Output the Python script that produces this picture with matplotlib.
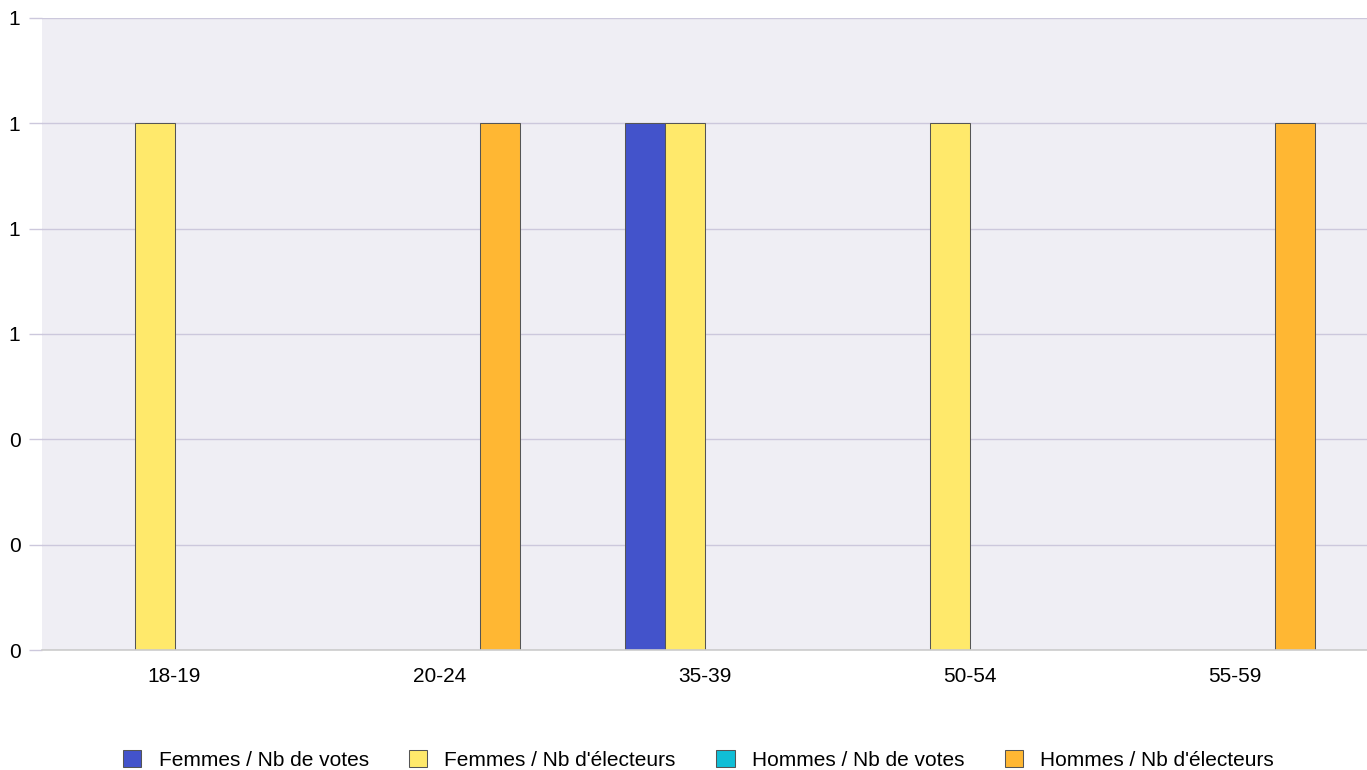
import numpy as np
import matplotlib
matplotlib.use('Agg')
from matplotlib import pyplot as plt
from matplotlib.patches import Patch

categories = ['18-19', '20-24', '35-39', '50-54', '55-59']
series_names = ['Femmes / Nb de votes', "Femmes / Nb d'électeurs",
                'Hommes / Nb de votes', "Hommes / Nb d'électeurs"]
femmes_votes = [0, 0, 1, 0, 0]
femmes_electeurs = [1, 0, 1, 1, 0]
hommes_votes = [0, 0, 0, 0, 0]
hommes_electeurs = [0, 1, 0, 0, 1]
colors = ['#4353CB', '#FFE96B', '#10BED6', '#FFB733']

plt.rcParams['font.family'] = ['Liberation Sans', 'DejaVu Sans']

fig = plt.figure(figsize=(13.67, 7.70), dpi=100)
ax = fig.add_axes([42 / 1367, 1 - 650 / 770, 1 - 42 / 1367, 632 / 770])
ax.set_facecolor('#EFEEF4')

data = [femmes_votes, femmes_electeurs, hommes_votes, hommes_electeurs]
x = np.arange(len(categories))
w = 40 / 265
for j, vals in enumerate(data):
    ax.bar(x + (j - 2) * w, vals, width=w, align='edge', color=colors[j],
           edgecolor='#555555', linewidth=0.75, zorder=3)

ax.set_xlim(-0.5, len(categories) - 0.5)
ax.set_ylim(0, 1.2)
yt = np.arange(0, 1.21, 0.2)
ax.set_yticks(yt)
ax.set_yticklabels(['%.0f' % v for v in yt])
ax.set_xticks(x)
ax.set_xticklabels(categories)
ax.grid(axis='y', color='#CCC8DC', linewidth=1, zorder=1)
ax.tick_params(axis='y', length=9.5, width=1, color='#CCC8DC', pad=6, labelsize=15)
ax.tick_params(axis='x', length=0, pad=12, labelsize=15)
for s in ax.spines.values():
    s.set_visible(False)
ax.axhline(0, color='#CCCCCC', linewidth=1.2, zorder=4, clip_on=False)

handles = [Patch(facecolor=c, edgecolor='#555555', linewidth=0.75) for c in colors]
fig.legend(handles, series_names, loc='center', bbox_to_anchor=(0.511, 0.013),
           ncol=4, frameon=False, fontsize=15, handlelength=0.87, handleheight=0.87,
           handletextpad=0.82, columnspacing=1.95)

fig.savefig('out.png', dpi=100)
